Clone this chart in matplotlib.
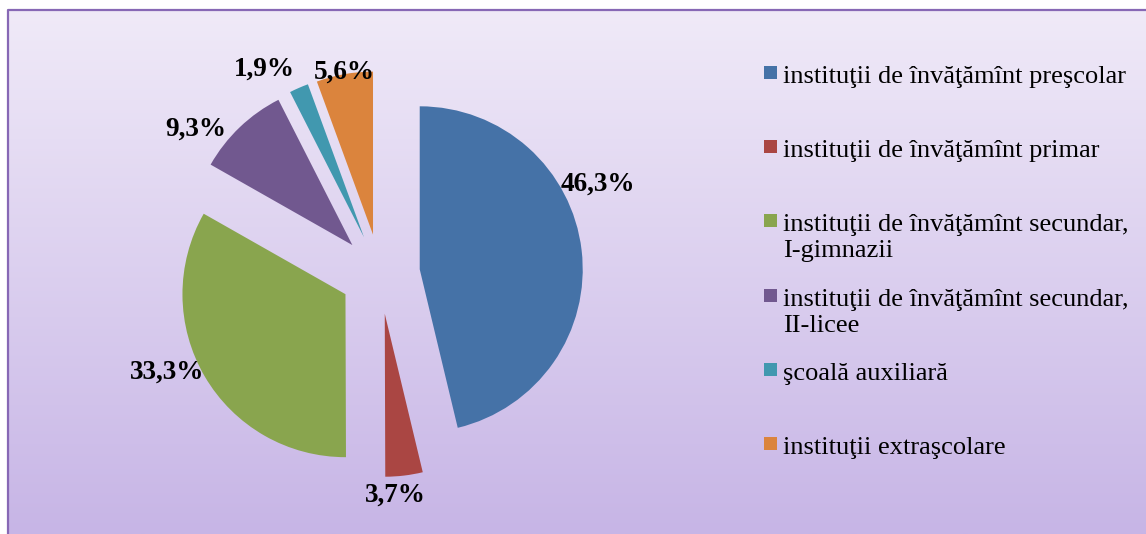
import numpy as np
import matplotlib
matplotlib.use('Agg')
import matplotlib.pyplot as plt
from matplotlib.patches import Rectangle

# data
categories = [
    'instituţii de învăţămînt preşcolar',
    'instituţii de învăţămînt primar',
    'instituţii de învăţămînt secundar,\nI-gimnazii',
    'instituţii de învăţămînt secundar,\nII-licee',
    'şcoală auxiliară',
    'instituţii extraşcolare',
]
values = [46.3, 3.7, 33.3, 9.3, 1.9, 5.6]
pct_labels = ['46,3%', '3,7%', '33,3%', '9,3%', '1,9%', '5,6%']
colors = ['#4572A7', '#AA4643', '#89A54E', '#71588F', '#4198AF', '#DB843D']

# label placement around pie centre (angle in degrees, distance in px)
label_ang = [22.4, -85.9, -155.3, 141.8, 119.6, 100.1]
label_dist = [236, 222, 234, 234, 235, 205]

W, H = 1146, 534
fig = plt.figure(figsize=(W / 100, H / 100), dpi=100)
ax = fig.add_axes([0, 0, 1, 1])

# gradient background inside the frame
top = np.array([240, 234, 248]) / 255
bot = np.array([199, 181, 230]) / 255
t = np.linspace(0, 1, 256)[:, None]
grad = (top * (1 - t) + bot * t)[:, None, :]
ax.imshow(grad, extent=(8, W, 0, H - 10), aspect='auto', zorder=0, origin='upper')
ax.plot([8, 8, W], [0, H - 10, H - 10], color='#8768B5', lw=1.6, zorder=1)

cx, cy, r = 380, H - 274, 163
ax.pie(values, colors=colors, startangle=90, counterclock=False,
       explode=[40] * len(values), radius=r, center=(cx, cy),
       wedgeprops=dict(linewidth=0, zorder=2))

for lab, a, d in zip(pct_labels, label_ang, label_dist):
    ax.text(cx + d * np.cos(np.radians(a)), cy + d * np.sin(np.radians(a)), lab,
            ha='center', va='center', fontsize=19.5, fontweight='bold',
            family='Liberation Serif', zorder=3)

# legend drawn by hand
base0, step, lh = 83, 74.2, 26
for i, (name, c) in enumerate(zip(categories, colors)):
    yb = base0 + i * step
    ax.add_patch(Rectangle((764, H - yb + 4), 13, 13, facecolor=c, edgecolor='none', zorder=3))
    for j, line in enumerate(name.split('\n')):
        ax.text(783, H - (yb + j * lh), line, ha='left', va='baseline',
                fontsize=19, family='Liberation Serif', zorder=3)

ax.set_xlim(0, W)
ax.set_ylim(0, H)
ax.set_aspect('auto')
ax.axis('off')
fig.savefig('out.png', dpi=100, facecolor='white')
